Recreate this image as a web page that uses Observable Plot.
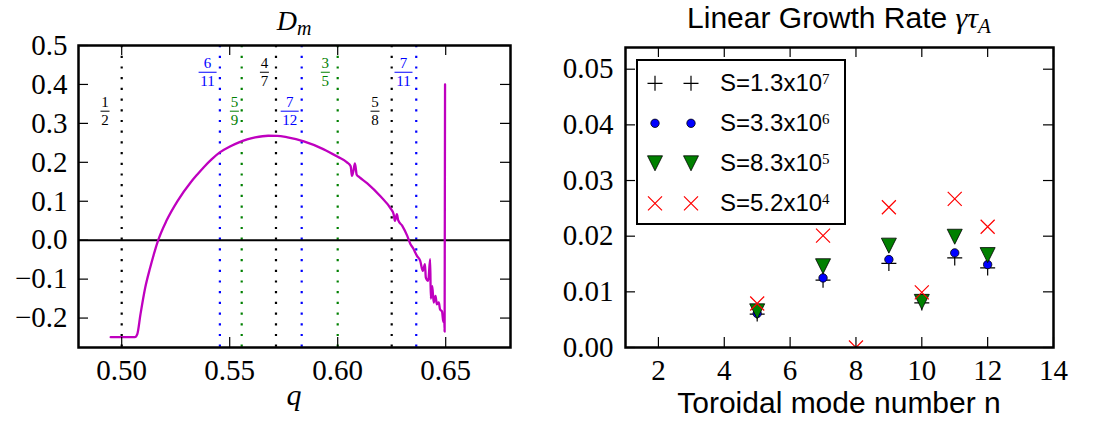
<!DOCTYPE html>
<html><head><meta charset="utf-8">
<script src="https://cdn.jsdelivr.net/npm/d3@7"></script>
<script src="https://cdn.jsdelivr.net/npm/@observablehq/plot@0.6"></script>
<style>
body{margin:0;background:#fff;}
#wrap{display:flex;width:1094px;height:422px;}
#wrap svg{overflow:visible;display:block}
</style></head><body><div id="wrap"></div>
<script>
// ---------- Left panel data: D_m profile ----------
const qValues  = [0.4949,0.5061,0.5072,0.5087,0.5109,0.5132,0.5150,0.5169,0.5207,0.5259,0.5319,0.5349,0.5379,0.5416,0.5454,0.5499,0.5543,0.5581,0.5618,0.5678,0.5720,0.5768,0.5843,0.5933,0.6000,0.6043,0.6060,0.6066,0.6072,0.6080,0.6088,0.6100,0.6137,0.6199,0.6247,0.6259,0.6265,0.6274,0.6280,0.6299,0.6322,0.6337,0.6352,0.6359,0.6367,0.6382,0.6394,0.6404,0.6408,0.6419,0.6428,0.6431,0.6438,0.6444,0.6453,0.6459,0.6468,0.6474,0.6483,0.6489,0.6493,0.6495,0.6497];
const dmValues = [-0.249,-0.249,-0.2416,-0.190,-0.1217,-0.0703,-0.034,0.0,0.0497,0.1011,0.1482,0.168,0.1868,0.2074,0.2254,0.2399,0.2511,0.2588,0.2639,0.2682,0.268,0.2639,0.2536,0.2339,0.214,0.200,0.190,0.165,0.176,0.197,0.168,0.162,0.146,0.112,0.0797,0.0668,0.0497,0.0668,0.0514,0.0368,0.0111,-0.0103,-0.0231,-0.0317,-0.0403,-0.0531,-0.0788,-0.0617,-0.096,-0.1045,-0.049,-0.150,-0.118,-0.160,-0.143,-0.165,-0.160,-0.178,-0.183,-0.210,-0.190,-0.235,0.40];

// rational surfaces
const rationalNum   = [1, 6, 5, 4, 7, 3, 5, 7];
const rationalDen   = [2, 11, 9, 7, 12, 5, 8, 11];
const rationalColor = ["black","blue","green","black","blue","green","black","blue"];
const labelQ = [0.4925, 0.5400, 0.5524, 0.5663, 0.5780, 0.5945, 0.6175, 0.6307];
const labelD = [0.330, 0.430, 0.330, 0.430, 0.330, 0.430, 0.330, 0.430];

const qTicks = [0.50, 0.55, 0.60, 0.65];
const dTicks = [-0.2, -0.1, 0.0, 0.1, 0.2, 0.3, 0.4, 0.5];

// ---------- Right panel data: growth rates ----------
const nModes = [5, 7, 9, 10, 11, 12];
const gammaS13e7 = [0.0060, 0.0121, 0.0151, 0.0080, 0.0161, 0.0143];
const gammaS33e6 = [0.0061, 0.0125, 0.0158, 0.0088, 0.0170, 0.0149];
const gammaS83e5 = [0.0065, 0.0146, 0.0183, 0.0082, 0.0199, 0.0166];
const nModesS52e4 = [5, 7, 8, 9, 10, 11, 12];
const gammaS52e4 = [0.0079, 0.0201, 0.0, 0.0252, 0.0099, 0.0267, 0.0217];
const legendMantissa = ["1.3", "3.3", "8.3", "5.2"];
const legendExponent = ["7", "6", "5", "4"];

const nTicks = [2, 4, 6, 8, 10, 12, 14];
const gTicks = [0.00, 0.01, 0.02, 0.03, 0.04, 0.05];

// ---------- helpers ----------
const SERIF = "Liberation Serif";
const SANS = "Liberation Sans";
const NS = "http://www.w3.org/2000/svg";
function el(tag, attrs, text) {
  const e = document.createElementNS(NS, tag);
  for (const k in attrs) e.setAttribute(k, attrs[k]);
  if (text != null) e.textContent = text;
  return e;
}
const rOf = s => Math.sqrt(s / Math.PI);
const plusSym  = {draw(c, s) { const r = rOf(s); c.moveTo(-r, 0); c.lineTo(r, 0); c.moveTo(0, -r); c.lineTo(0, r); }};
const timesSym = {draw(c, s) { const r = rOf(s); c.moveTo(-r, -r); c.lineTo(r, r); c.moveTo(-r, r); c.lineTo(r, -r); }};
const triDown  = {draw(c, s) { const r = rOf(s); c.moveTo(0, r); c.lineTo(-r, -r); c.lineTo(r, -r); c.closePath(); }};
const circSym  = d3.symbolCircle;

const series = [
  {n: nModes, g: gammaS13e7, sym: plusSym, r: 7.5, fill: "none", stroke: "black", sw: 1.2},
  {n: nModes, g: gammaS33e6, sym: circSym, r: 4.2, fill: "blue", stroke: "black", sw: 0.8},
  {n: nModes, g: gammaS83e5, sym: triDown, r: 7.5, fill: "green", stroke: "black", sw: 0.8},
  {n: nModesS52e4, g: gammaS52e4, sym: timesSym, r: 7, fill: "none", stroke: "red", sw: 1.2}
];

function innerTicks(ticks, axis, dims) {
  const fh = dims.height - dims.marginTop - dims.marginBottom;
  const fw = dims.width - dims.marginLeft - dims.marginRight;
  const L = 10, o = {stroke: "black", strokeWidth: 1.2};
  if (axis === "x") return [
    Plot.ruleX(ticks, {...o, insetBottom: fh - L}),
    Plot.ruleX(ticks, {...o, insetTop: fh - L})
  ];
  return [
    Plot.ruleY(ticks, {...o, insetRight: fw - L}),
    Plot.ruleY(ticks, {...o, insetLeft: fw - L})
  ];
}
const tickFont = {fontFamily: SERIF, fontSize: 29, fill: "black"};
function tickLabelsX(ticks, fmt) {
  return Plot.text(ticks, {x: d => d, text: fmt, frameAnchor: "bottom", dy: 23, textAnchor: "middle", lineAnchor: "middle", ...tickFont});
}
function tickLabelsY(ticks, fmt, pad) {
  return Plot.text(ticks, {y: d => d, text: fmt, frameAnchor: "left", dx: -pad, textAnchor: "end", lineAnchor: "middle", ...tickFont});
}

const W = 547, H = 422;

// ---------- Left plot ----------
const dimsL = {width: W, height: H, marginLeft: 78, marginRight: 37, marginTop: 45, marginBottom: 75};
const curve = qValues.map((q, i) => ({q, d: dmValues[i]}));
const rationals = rationalNum.map((num, i) => ({q: num / rationalDen[i], color: rationalColor[i]}));

const fractionMark = (index, scales) => {
  const g = el("g", {"font-family": SERIF, "font-size": 15, "text-anchor": "middle"});
  labelQ.forEach((q, i) => {
    const x = scales.x(q), y = scales.y(labelD[i]);
    const c = rationalColor[i];
    const w = String(rationalDen[i]).length > 1 ? 18 : 9;
    g.append(el("text", {x, y: y - 4, fill: c}, rationalNum[i]));
    g.append(el("line", {x1: x - w / 2, x2: x + w / 2, y1: y, y2: y, stroke: c, "stroke-width": 1}));
    g.append(el("text", {x, y: y + 14, fill: c}, rationalDen[i]));
  });
  return g;
};
const leftTitle = (index, scales, values, d) => {
  const cx = d.marginLeft + (d.width - d.marginLeft - d.marginRight) / 2;
  const t = el("text", {x: cx, y: 30, "text-anchor": "middle", "font-family": SERIF, "font-style": "italic", "font-size": 28});
  t.append(document.createTextNode("D"));
  t.append(el("tspan", {"font-size": 20, dy: 5}, "m"));
  const lab = el("text", {x: cx, y: 405, "text-anchor": "middle", "font-family": SERIF, "font-style": "italic", "font-size": 30}, "q");
  const g = el("g", {}); g.append(t, lab); return g;
};

const left = Plot.plot({
  ...dimsL,
  style: {background: "white", color: "black"},
  x: {domain: [0.48, 0.68], axis: null},
  y: {domain: [-0.2756, 0.5], axis: null},
  color: {type: "identity"},
  marks: [
    Plot.ruleX(rationals, {x: "q", stroke: "color", strokeWidth: 2.2, strokeDasharray: "2.2,8.5"}),
    Plot.ruleY([0], {stroke: "black", strokeWidth: 2}),
    Plot.line(curve, {x: "q", y: "d", stroke: "#bf00bf", strokeWidth: 2.3, curve: "monotone-x"}),
    fractionMark,
    ...innerTicks(qTicks, "x", dimsL),
    ...innerTicks(dTicks, "y", dimsL),
    tickLabelsX(qTicks, d => d.toFixed(2)),
    tickLabelsY(dTicks, d => (d < -1e-9 ? "\u2212" : "") + Math.abs(d).toFixed(1), 11),
    Plot.frame({stroke: "black", strokeWidth: 2.5}),
    leftTitle
  ]
});

// ---------- Right plot ----------
const dimsR = {width: W, height: H, marginLeft: 78, marginRight: 41, marginTop: 47, marginBottom: 75};

const rightText = (index, scales, values, d) => {
  const cx = d.marginLeft + (d.width - d.marginLeft - d.marginRight) / 2;
  const g = el("g", {"text-anchor": "start"});
  const t = el("text", {x: cx, y: 28, "text-anchor": "middle", "font-family": SANS, "font-size": 30});
  t.append(document.createTextNode("Linear Growth Rate "));
  t.append(el("tspan", {"font-family": SERIF, "font-style": "italic"}, "\u03B3\u03C4"));
  t.append(el("tspan", {"font-family": SERIF, "font-style": "italic", "font-size": 21, dy: 5}, "A"));
  g.append(t);
  g.append(el("text", {x: cx, y: 413, "text-anchor": "middle", "font-family": SANS, "font-size": 30}, "Toroidal mode number n"));
  // legend
  const lx = d.marginLeft + 12, ly = d.marginTop + 13;
  g.append(el("rect", {x: lx, y: ly, width: 208, height: 164, fill: "white", stroke: "black", "stroke-width": 2}));
  series.forEach((s, i) => {
    const cy = ly + 23.3 + 40 * i;
    const path = d3.symbol(s.sym, Math.PI * s.r * s.r)();
    for (const dx of [18, 54]) {
      g.append(el("path", {d: path, transform: `translate(${lx + dx},${cy})`, fill: s.fill, stroke: s.stroke, "stroke-width": s.sw}));
    }
    const tx = el("text", {x: lx + 83, y: cy + 8, "text-anchor": "start", "font-family": SANS, "font-size": 24, fill: "black"});
    tx.append(document.createTextNode("S=" + legendMantissa[i] + "x10"));
    tx.append(el("tspan", {"font-family": SERIF, "font-size": 15, dy: -7}, legendExponent[i]));
    g.append(tx);
  });
  return g;
};

const right = Plot.plot({
  ...dimsR,
  style: {background: "white", color: "black"},
  x: {domain: [1, 14], axis: null},
  y: {domain: [0, 0.0539], axis: null},
  marks: [
    ...series.map(s => Plot.dot(s.n.map((n, i) => ({n, g: s.g[i]})), {
      x: "n", y: "g", symbol: s.sym, r: s.r, fill: s.fill, stroke: s.stroke, strokeWidth: s.sw, clip: true
    })),
    ...innerTicks(nTicks, "x", dimsR),
    ...innerTicks(gTicks, "y", dimsR),
    tickLabelsX(nTicks, d => String(d)),
    tickLabelsY(gTicks, d => d.toFixed(2), 12),
    Plot.frame({stroke: "black", strokeWidth: 2.5}),
    rightText
  ]
});

document.getElementById("wrap").append(left, right);
</script></body></html>
